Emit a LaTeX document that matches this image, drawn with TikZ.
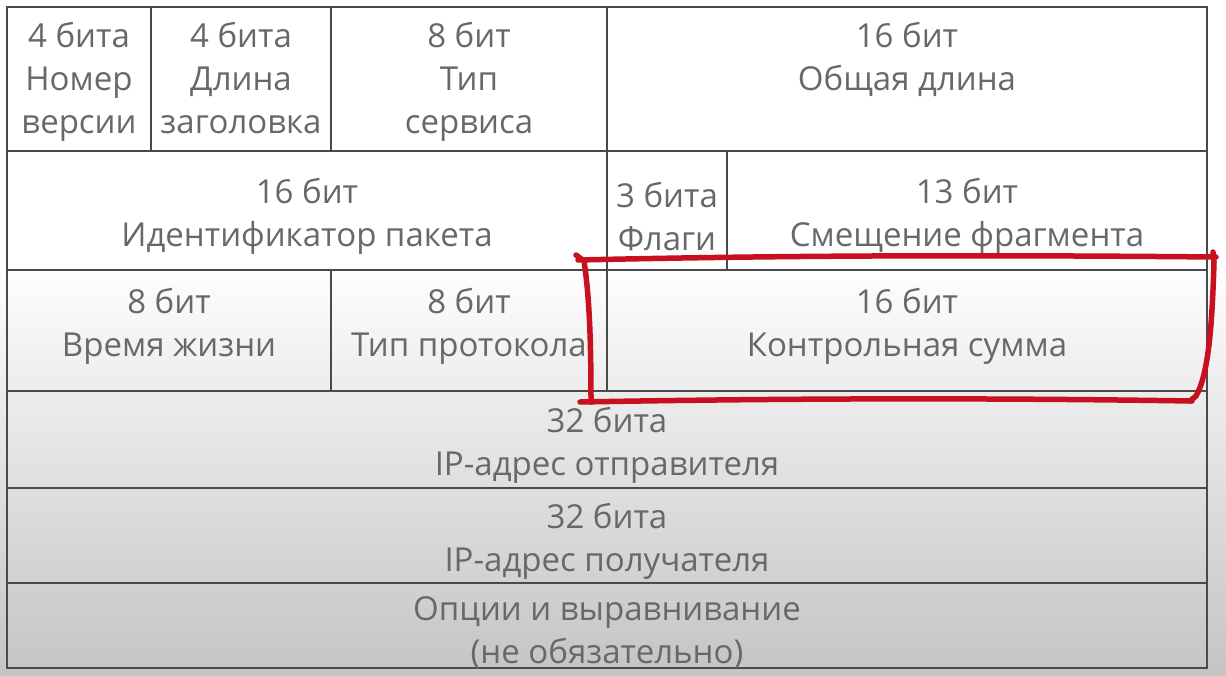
\documentclass[tikz,border=0pt]{standalone}
\usepackage{fontspec}
\setmainfont{Open Sans}
\definecolor{linegray}{RGB}{74,74,74}
\definecolor{textgray}{RGB}{104,104,104}
\definecolor{markred}{RGB}{200,16,30}
\definecolor{bggray}{RGB}{196,196,196}
\newcommand{\firstline}{\rule{0pt}{37pt}}
\tikzset{
  cell/.style={draw=linegray, line width=2pt, anchor=north west, inner sep=0pt,
    align=center, text=textgray, font=\fontsize{33}{43}\selectfont},
  redmark/.style={draw=markred, line width=5.5pt, line cap=round, line join=round}
}
\begin{document}
\begin{tikzpicture}[x=1pt,y=-1pt]
    \useasboundingbox (0,0) rectangle (1226,675);
    \fill[white] (0,0) rectangle (1226,262);
    \shade[top color=white, bottom color=bggray] (0,261) rectangle (1226,675);
    % row 1
    \node[cell, minimum width=144, minimum height=144] (ver) at (6,6) {\firstline 4 бита\\Номер\\версии\\[-29pt]};
    \node[cell, minimum width=180, minimum height=144] (hlen) at (150,6) {\firstline 4 бита\\Длина\\заголовка\\[-29pt]};
    \node[cell, minimum width=276, minimum height=144] (tos) at (330,6) {\firstline 8 бит\\Тип\\сервиса\\[-29pt]};
    \node[cell, minimum width=600, minimum height=144] (total) at (606,6) {\firstline 16 бит\\Общая длина\\\phantom{Х}\\[-29pt]};
    % row 2
    \node[cell, minimum width=600, minimum height=119] (ident) at (6,150) {\firstline 16 бит\\Идентификатор пакета};
    \node[cell, minimum width=120, minimum height=119] (flags) at (606,150) {\firstline 3 бита\\Флаги};
    \node[cell, minimum width=480, minimum height=119] (offset) at (726,150) {\firstline 13 бит\\Смещение фрагмента};
    % row 3
    \node[cell, minimum width=324, minimum height=121] (ttl) at (6,269) {\firstline 8 бит\\Время жизни\\[-15pt]};
    \node[cell, minimum width=276, minimum height=121] (proto) at (330,269) {\firstline 8 бит\\Тип протокола\\[-15pt]};
    \node[cell, minimum width=600, minimum height=121] (csum) at (606,269) {\firstline 16 бит\\Контрольная сумма\\[-15pt]};
    % rows 4-6
    \node[cell, minimum width=1200, minimum height=97] (src) at (6,390) {\firstline 32 бита\\IP-адрес отправителя};
    \node[cell, minimum width=1200, minimum height=95] (dst) at (6,487) {\firstline 32 бита\\IP-адрес получателя};
    \node[cell, minimum width=1200, minimum height=84] (opts) at (6,582) {\firstline Опции и выравнивание\\(не обязательно)};
    % hand-drawn mark round the checksum
    \draw[redmark] (576,255) -- (584,261) .. controls (590,300) and (591,350) .. (591,402);
    \draw[redmark] (578,260) .. controls (800,255) and (1000,255) .. (1216,257);
    \draw[redmark] (1213,252) -- (1214,262) .. controls (1212,330) and (1208,375) .. (1196,396) -- (1190,401);
    \draw[redmark] (1192,401) .. controls (1000,398) and (800,398) .. (580,402);
  \end{tikzpicture}
\end{document}
